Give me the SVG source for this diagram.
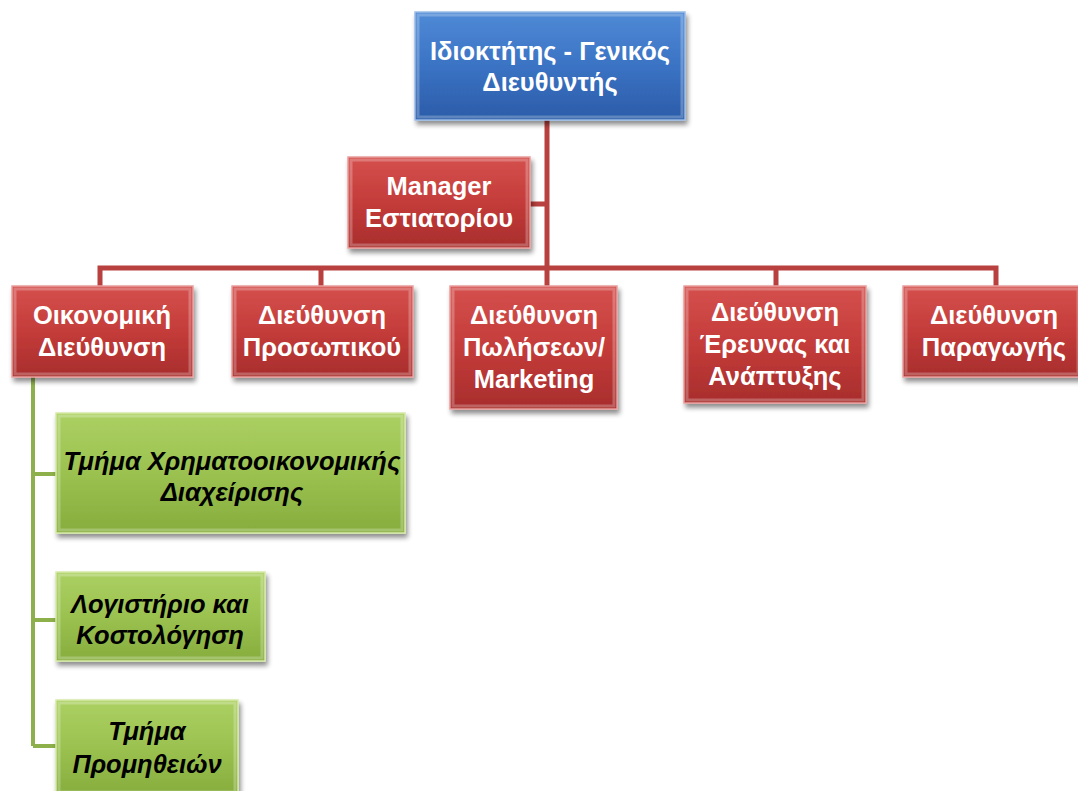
<svg xmlns="http://www.w3.org/2000/svg" width="1078" height="791" viewBox="0 0 1078 791">
<defs>
<linearGradient id="gRed" x1="0" y1="0" x2="0" y2="1">
<stop offset="0" stop-color="#d4504d"/><stop offset="0.5" stop-color="#c43c3a"/><stop offset="1" stop-color="#a82d2c"/>
</linearGradient>
<linearGradient id="gBlue" x1="0" y1="0" x2="0" y2="1">
<stop offset="0" stop-color="#4f8ad6"/><stop offset="0.5" stop-color="#3b73c4"/><stop offset="1" stop-color="#2b5ca9"/>
</linearGradient>
<linearGradient id="gGreen" x1="0" y1="0" x2="0" y2="1">
<stop offset="0" stop-color="#acd063"/><stop offset="0.5" stop-color="#9bc250"/><stop offset="1" stop-color="#86ad3d"/>
</linearGradient>
<filter id="sh" x="-10%" y="-10%" width="125%" height="130%">
<feGaussianBlur in="SourceAlpha" stdDeviation="2.5"/>
<feOffset dx="2" dy="4" result="b"/>
<feComponentTransfer><feFuncA type="linear" slope="0.45"/></feComponentTransfer>
<feMerge><feMergeNode/><feMergeNode in="SourceGraphic"/></feMerge>
</filter>
</defs>
<style>
.red{fill:url(#gRed);stroke:#e9a09e;stroke-width:1.5;filter:url(#sh)}
.blue{fill:url(#gBlue);stroke:#9cbde8;stroke-width:1.5;filter:url(#sh)}
.green{fill:url(#gGreen);stroke:#d6eaa8;stroke-width:1.5;filter:url(#sh)}
.bev{fill:none;stroke:#ffffff;stroke-opacity:0.25;stroke-width:3}
.wt{font-family:"Liberation Sans",Arial,sans-serif;font-weight:bold;font-size:25.5px;fill:#ffffff;text-anchor:middle}
.gt{font-family:"Liberation Sans",Arial,sans-serif;font-weight:bold;font-style:italic;font-size:25.5px;fill:#000000;text-anchor:middle}
.rc{fill:none;stroke:#b8403e;stroke-width:5}
.gc{fill:none;stroke:#8db04a;stroke-width:4}
</style>
<g id="connectors">
<path class="rc" d="M547,120 V268 M530,204 H547 M100,287 V268 H996 V287 M321,268 V287 M547,268 V287 M776,268 V287"/>
<path class="gc" d="M33,377 V746 M33,474 H56 M33,620 H56 M33,746 H56"/>
</g>
<g id="n-owner">
<rect class="blue" x="415" y="12" width="270" height="108"/>
<rect class="bev" x="418" y="15" width="264" height="102"/>
<text class="wt" x="550" y="60">Ιδιοκτήτης - Γενικός</text>
<text class="wt" x="550" y="91">Διευθυντής</text>
</g>
<g id="n-manager">
<rect class="red" x="348" y="157" width="182" height="91"/>
<rect class="bev" x="351" y="160" width="176" height="85"/>
<text class="wt" x="439" y="195">Manager</text>
<text class="wt" x="439" y="227">Εστιατορίου</text>
</g>
<g id="n-finance">
<rect class="red" x="12" y="286" width="181" height="91"/>
<rect class="bev" x="15" y="289" width="175" height="85"/>
<text class="wt" x="102" y="324">Οικονομική</text>
<text class="wt" x="102" y="356">Διεύθυνση</text>
</g>
<g id="n-hr">
<rect class="red" x="232" y="286" width="181" height="91"/>
<rect class="bev" x="235" y="289" width="175" height="85"/>
<text class="wt" x="322" y="324">Διεύθυνση</text>
<text class="wt" x="322" y="356">Προσωπικού</text>
</g>
<g id="n-sales">
<rect class="red" x="450" y="286" width="167" height="123"/>
<rect class="bev" x="453" y="289" width="161" height="117"/>
<text class="wt" x="534" y="324">Διεύθυνση</text>
<text class="wt" x="534" y="356">Πωλήσεων/</text>
<text class="wt" x="534" y="388">Marketing</text>
</g>
<g id="n-rnd">
<rect class="red" x="684" y="286" width="182" height="117"/>
<rect class="bev" x="687" y="289" width="176" height="111"/>
<text class="wt" x="775" y="321">Διεύθυνση</text>
<text class="wt" x="775" y="353">Έρευνας και</text>
<text class="wt" x="775" y="385">Ανάπτυξης</text>
</g>
<g id="n-production">
<rect class="red" x="903" y="286" width="178" height="91"/>
<rect class="bev" x="906" y="289" width="172" height="85"/>
<text class="wt" x="994" y="324">Διεύθυνση</text>
<text class="wt" x="994" y="356">Παραγωγής</text>
</g>
<g id="n-treasury">
<rect class="green" x="56" y="413" width="349" height="120"/>
<rect class="bev" x="59" y="416" width="343" height="114"/>
<text class="gt" x="232" y="470">Τμήμα Χρηματοοικονομικής</text>
<text class="gt" x="232" y="501">Διαχείρισης</text>
</g>
<g id="n-accounting">
<rect class="green" x="56" y="572" width="209" height="89"/>
<rect class="bev" x="59" y="575" width="203" height="83"/>
<text class="gt" x="160" y="613">Λογιστήριο και</text>
<text class="gt" x="160" y="644">Κοστολόγηση</text>
</g>
<g id="n-procurement">
<rect class="green" x="56" y="700" width="182" height="95"/>
<rect class="bev" x="59" y="703" width="176" height="89"/>
<text class="gt" x="147" y="740">Τμήμα</text>
<text class="gt" x="147" y="773">Προμηθειών</text>
</g>
</svg>
